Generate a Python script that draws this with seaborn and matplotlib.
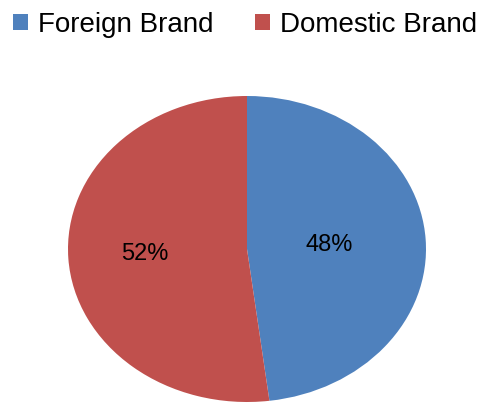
import matplotlib
matplotlib.use("Agg")
import numpy as np
import matplotlib.pyplot as plt
from matplotlib.patches import Patch
import seaborn as sns

# data
brands = ["Foreign Brand", "Domestic Brand"]
shares = [48, 52]
colors = ["#4F81BD", "#C0504D"]
label_dist = [0.46, 0.57]  # how far from the centre each % label sits

sns.set_theme(style="white")
plt.rcParams["font.family"] = ["Liberation Sans", "DejaVu Sans"]
plt.rcParams["text.color"] = "black"

fig = plt.figure(figsize=(4.91, 4.03), dpi=100)
# pie area stretched wider than tall, like the reference
ax = fig.add_axes([68 / 491, 1 / 403, 358 / 491, 306 / 403])

wedges, texts, autotexts = ax.pie(
    shares, colors=sns.color_palette(colors), startangle=90, counterclock=False,
    autopct="%d%%", pctdistance=0.5, textprops={"fontsize": 17, "color": "black"},
    wedgeprops={"linewidth": 0},
)
for w, t, d in zip(wedges, autotexts, label_dist):
    mid = np.deg2rad((w.theta1 + w.theta2) / 2)
    t.set_position((d * np.cos(mid), d * np.sin(mid)))
ax.set_aspect("auto")
ax.set_xlim(-1, 1)
ax.set_ylim(-1, 1)

handles = [Patch(facecolor=c, edgecolor="none") for c in colors]
fig.legend(handles, brands, loc="upper left", bbox_to_anchor=(0.015, 0.985), ncol=2,
           frameon=False, fontsize=20, handlelength=0.55, handleheight=0.5,
           handletextpad=0.35, columnspacing=1.5, borderpad=0.2, borderaxespad=0,
           labelcolor="black")

fig.savefig("out.png", dpi=100)
